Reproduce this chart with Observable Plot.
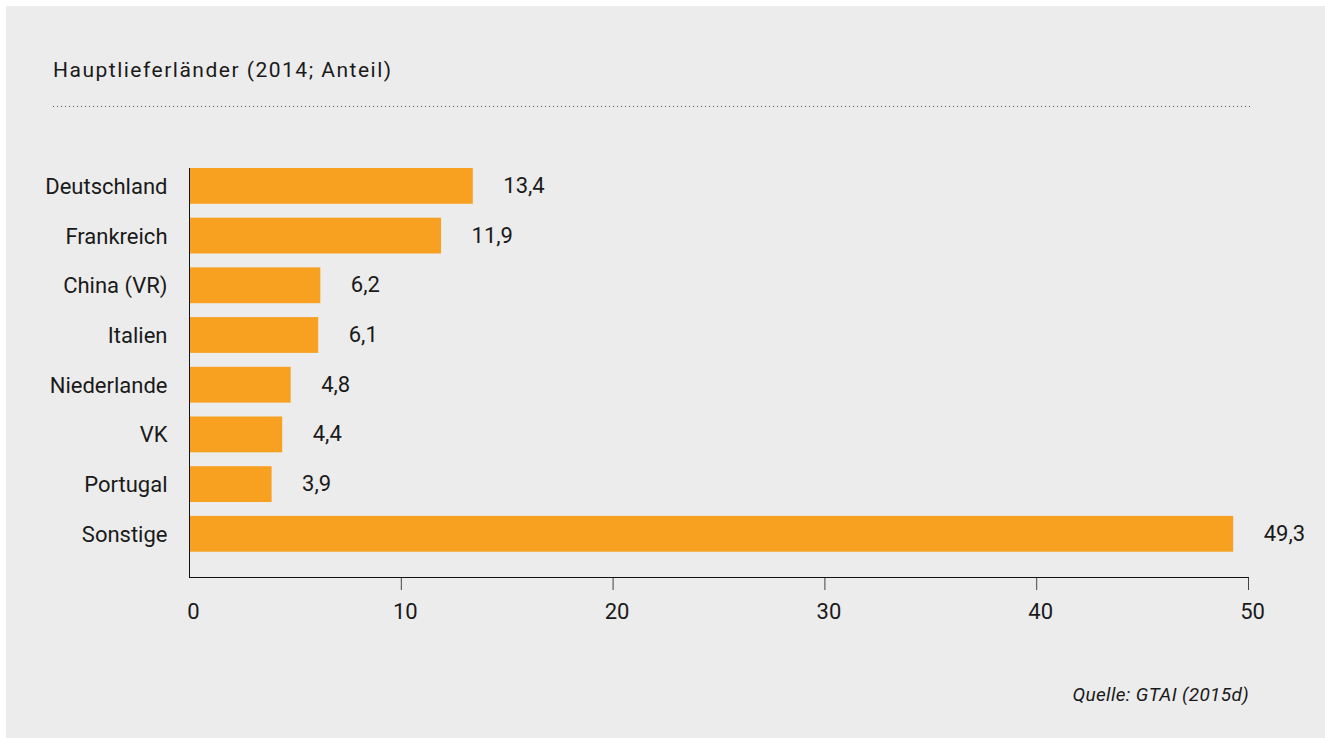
<!DOCTYPE html>
<html>
<head>
<meta charset="utf-8">
<script src="https://cdn.jsdelivr.net/npm/d3@7"></script>
<script src="https://cdn.jsdelivr.net/npm/@observablehq/plot@0.6"></script>
<style>
  html, body { margin: 0; padding: 0; background: #ffffff; }
  #panel { position: absolute; left: 6px; top: 6px; width: 1319px; height: 732px; background: #ececec; font-family: Roboto, sans-serif; color: #1a1a1a; }
  #title { position: absolute; left: 47px; top: 52px; font-size: 21px; letter-spacing: 1.5px; line-height: normal; white-space: nowrap; }
  #dots { position: absolute; left: 47px; top: 100px; width: 1200px; height: 1px;
          background-image: repeating-linear-gradient(to right, #555 0 1px, transparent 1px 4px); }
  #chart { position: absolute; left: 0; top: 0; }
  #caption { position: absolute; right: 76px; top: 677px; font-size: 19px; letter-spacing: 0.35px; font-style: italic; line-height: normal; white-space: nowrap; }
</style>
</head>
<body>
<div id="panel">
  <div id="title"></div>
  <div id="dots"></div>
  <div id="chart"></div>
  <div id="caption"></div>
</div>
<script>
const titleText = "Hauptlieferländer (2014; Anteil)";
const captionText = "Quelle: GTAI (2015d)";
const countries = ["Deutschland", "Frankreich", "China (VR)", "Italien", "Niederlande", "VK", "Portugal", "Sonstige"];
const shares = [13.4, 11.9, 6.2, 6.1, 4.8, 4.4, 3.9, 49.3];
const xTicks = [0, 10, 20, 30, 40, 50];

const data = countries.map((c, i) => ({country: c, value: shares[i]}));
const fmt = v => v.toFixed(1).replace(".", ",");

document.getElementById("title").textContent = titleText;
document.getElementById("caption").textContent = captionText;

const chart = Plot.plot({
  width: 1319,
  height: 640,
  marginLeft: 183,
  marginRight: 77,
  marginTop: 162,
  marginBottom: 69,
  style: {background: "transparent", fontFamily: "Roboto, sans-serif", fontSize: "22px", color: "#1a1a1a"},
  x: {domain: [0, 50]},
  y: {domain: countries, paddingInner: 0.28, paddingOuter: 0.2545, align: 0, round: false},
  marks: [
    Plot.barX(data, {x: "value", y: "country", fill: "#f8a01f"}),
    Plot.text(data, {x: "value", y: "country", text: d => fmt(d.value), textAnchor: "start", dx: 30, dy: -0.5, fontSize: 22, fill: "#1a1a1a"}),
    Plot.axisY({tickSize: 0, tickPadding: 22, fontSize: 22, label: null, dy: 0.5}),
    Plot.axisX({ticks: xTicks.filter(t => t > 0), tickSize: 13, text: null, stroke: "#444", label: null}),
    Plot.axisX({ticks: xTicks, tickSize: 0, tickPadding: 26, dx: 4, fontSize: 22, label: null}),
    Plot.frame({anchor: "left", stroke: "#111"}),
    Plot.frame({anchor: "bottom", stroke: "#111"})
  ]
});
document.getElementById("chart").appendChild(chart);
</script>
</body>
</html>
